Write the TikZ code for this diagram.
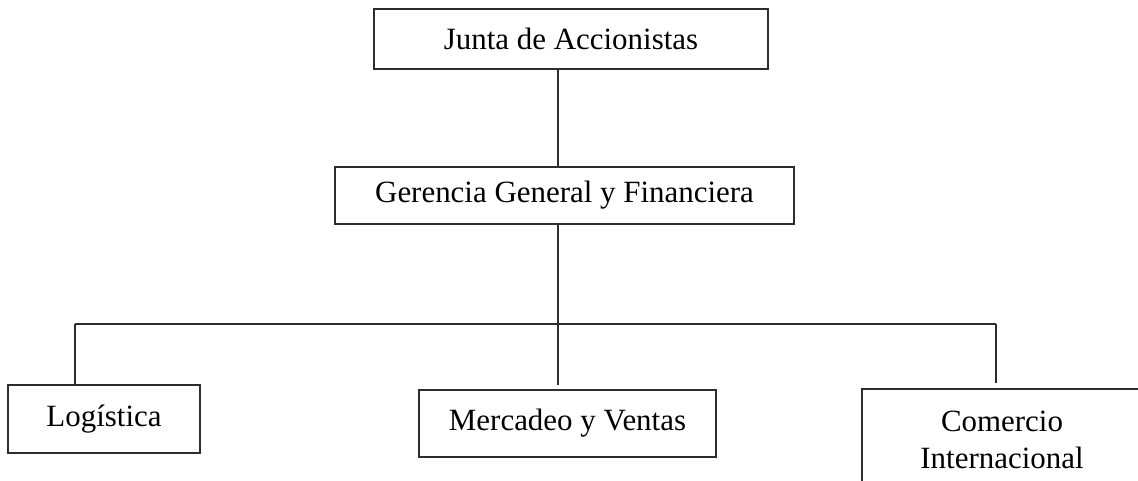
\documentclass[tikz,border=0pt]{standalone}
\usepackage{fontspec}
\setmainfont{Liberation Serif}
\usepackage{tikz}
\usetikzlibrary{positioning, calc}
\definecolor{lineclr}{RGB}{45, 45, 45}
\tikzset{
    unit/.style={rectangle, draw=lineclr, line width=1.1pt, fill=white, align=center, inner sep=2pt, font=\fontsize{17.6}{21}\selectfont},
    link/.style={lineclr, line width=1.1pt}
}
\begin{document}
\begin{tikzpicture}
        \useasboundingbox (0,0) rectangle (22.76,9.6);

        % Top levels
        \node[unit, minimum width=7.88cm, minimum height=1.2cm] (junta) at (11.42, 8.82) {Junta de Accionistas};
        \node[unit, minimum width=9.18cm, minimum height=1.14cm] (gerencia) at (11.29, 5.69) {Gerencia General y Financiera};

        % Departments
        \node[unit, minimum width=3.84cm, minimum height=1.36cm] (logistica) at (2.08, 1.22) {Logística};
        \node[unit, minimum width=5.94cm, minimum height=1.34cm] (mercadeo) at (11.35, 1.13) {Mercadeo y Ventas};
        \node[unit, minimum width=5.6cm, minimum height=2.04cm, text width=5cm, font=\fontsize{17.6}{21.5}\selectfont] (comercio) at (20.04, 0.8) {Comercio\\Internacional};

        % Branch points
        \coordinate (trunk) at (11.16, 3.12);
        \coordinate (barl) at (1.5, 3.12);
        \coordinate (barr) at (19.92, 3.12);

        % Lines
        \draw[link] (junta.south -| trunk) -- (gerencia.north -| trunk);
        \draw[link] (gerencia.south -| trunk) -- (trunk);
        \draw[link] (barl) -- (barr);
        \draw[link] (barl) -- (logistica.north -| barl);
        \draw[link] (trunk) -- ($(mercadeo.north -| trunk)+(0,0.08)$);
        \draw[link] (barr) -- ($(comercio.north -| barr)+(0,0.1)$);
    \end{tikzpicture}
\end{document}
